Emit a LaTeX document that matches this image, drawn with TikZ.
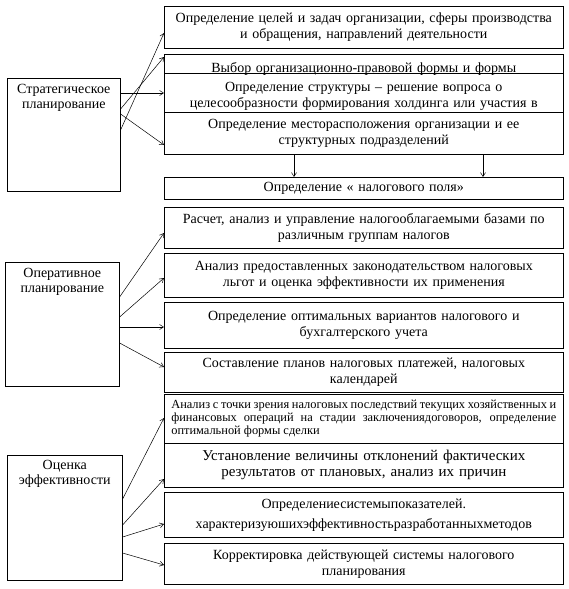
\documentclass[tikz,border=0pt]{standalone}
\usepackage{fontspec}
\setmainfont{Liberation Serif}
\usetikzlibrary{arrows.meta,positioning}
\begin{document}
\begin{tikzpicture}[x=1pt,y=-1pt,
 rbox/.style={draw, line width=0.6pt, anchor=north west, minimum width=399pt, inner sep=0pt, text width=396pt, align=center, font=\fontsize{14}{16}\selectfont},
 lbox/.style={draw, line width=0.6pt, anchor=north west, inner sep=0pt},
 ltext/.style={anchor=north, align=center, inner sep=0pt, font=\fontsize{14}{15.5}\selectfont},
 arr/.style={-{Straight Barb[length=4pt,width=5pt]}, line width=0.5pt}]
\useasboundingbox (0,0) rectangle (569,589);

% strategic block
\node[rbox, minimum height=42pt] (b1) at (164,6) {Определение целей и задач организации, сферы производства\\и обращения, направлений деятельности};
\node[rbox, minimum height=19pt, text height=17pt, text depth=0pt] (b2) at (164,54) {Выбор организационно-правовой формы и формы};
\node[rbox, minimum height=39pt, text height=17pt] (b3) at (164,73) {Определение структуры – решение вопроса о\\целесообразности формирования холдинга или участия в};
\node[rbox, minimum height=42pt] (b4) at (164,112) {Определение месторасположения организации и ее\\структурных подразделений};
\node[rbox, minimum height=22pt] (b5) at (164,177) {Определение « налогового поля»};

\node[lbox, minimum width=113pt, minimum height=113pt] (strat) at (7,78) {};
\node[ltext] (stratT) at ([yshift=-6pt]strat.north) {Стратегическое\\планирование};

\draw[arr] ([yshift=-15pt]strat.north east) -- ([yshift=-15pt]strat.north east -| b3.west);
\draw[arr] ([yshift=-31pt]strat.north east) -- ([yshift=-3pt]b2.north west);
\draw[arr] ([yshift=-36pt]strat.north east) -- ([yshift=-33pt]b4.north west);
\draw[arr] ([yshift=-52pt]strat.north east) -- ([yshift=-27pt]b1.north west);
\draw[arr] ([xshift=130pt]b4.south west) -- ([xshift=130pt]b5.north west);
\draw[arr] ([xshift=319pt]b4.south west) -- ([xshift=319pt]b5.north west);

% operational block
\node[rbox, minimum height=41pt] (o1) at (164,207) {Расчет, анализ и управление налогооблагаемыми базами по\\различным группам налогов};
\node[rbox, minimum height=44pt] (o2) at (164,253) {Анализ предоставленных законодательством налоговых\\льгот и оценка эффективности их применения};
\node[rbox, minimum height=46pt] (o3) at (164,302) {Определение оптимальных вариантов налогового и\\бухгалтерского учета};
\node[rbox, minimum height=40pt] (o4) at (164,352) {Составление планов налоговых платежей, налоговых\\календарей};

\node[lbox, minimum width=114pt, minimum height=124pt] (oper) at (5,262) {};
\node[ltext] (operT) at ([yshift=-6pt]oper.north) {Оперативное\\планирование};

\draw[arr] ([yshift=-35pt]oper.north east) -- ([yshift=-26pt]o1.north west);
\draw[arr] ([yshift=-55pt]oper.north east) -- ([yshift=-25pt]o2.north west);
\draw[arr] ([yshift=-65pt]oper.north east) -- ([yshift=-65pt]oper.north east -| o3.west);
\draw[arr] ([yshift=-81pt]oper.north east) -- ([yshift=-15pt]o4.north west);

% evaluation block
\node[rbox, minimum height=49pt, text width=385pt, align=justify, font=\fontsize{12.4}{12.9}\selectfont] (e1) at (164,394) {Анализ с точки зрения налоговых последствий текущих хозяйственных и\linebreak финансовых операций на стадии заключениядоговоров, определение\linebreak оптимальной формы сделки};
\node[rbox, minimum height=44pt, font=\fontsize{15}{16}\selectfont] (e2) at (164,443) {Установление величины отклонений фактических\\результатов от плановых, анализ их причин};
\node[rbox, minimum height=45pt, font=\fontsize{14}{20}\selectfont] (e3) at (164,492) {Определениесистемыпоказателей.\\характеризуюшихэффективностьразработанныхметодов};
\node[rbox, minimum height=41pt] (e4) at (164,543) {Корректировка действующей системы налогового\\планирования};

\node[lbox, minimum width=115pt, minimum height=125pt] (eval) at (7,455) {};
\node[ltext] (evalT) at ([yshift=-5pt]eval.north) {Оценка\\эффективности};

\draw[arr] ([yshift=-44pt]eval.north east) -- ([yshift=-24pt]e1.north west);
\draw[arr] ([yshift=-70pt]eval.north east) -- ([yshift=-36pt]e2.north west);
\draw[arr] ([yshift=-82pt]eval.north east) -- ([yshift=-32pt]e3.north west);
\draw[arr] ([yshift=-98pt]eval.north east) -- ([yshift=-22pt]e4.north west);
\end{tikzpicture}
\end{document}
